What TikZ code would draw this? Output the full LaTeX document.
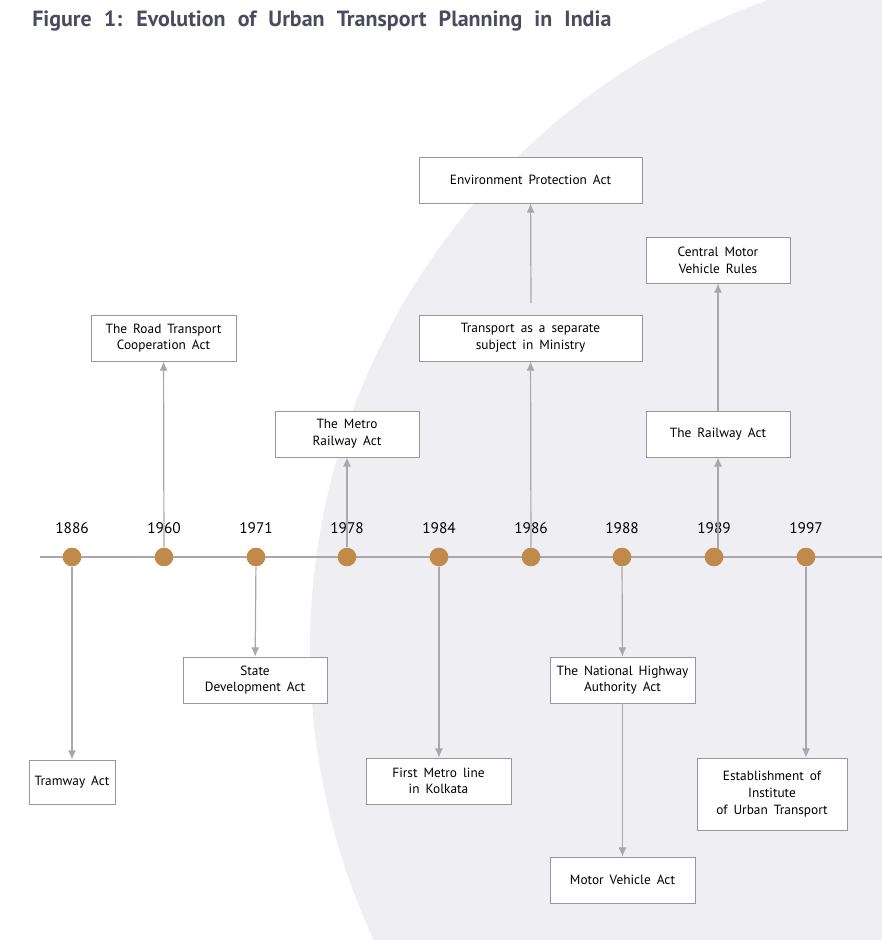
\documentclass[tikz,border=0pt]{standalone}
\usepackage{fontspec}
\setmainfont{PT Sans}
\usetikzlibrary{arrows.meta}
\definecolor{bgc}{HTML}{EFEEF3}
\definecolor{dotc}{HTML}{C08A4A}
\definecolor{arr}{HTML}{A8A8AC}
\definecolor{ttl}{HTML}{4B4B5F}
\newcommand{\myboxfont}{\fontsize{10}{12.5}\selectfont\spaceskip=0.45em\relax}
\newcommand{\mytitlefont}{\fontsize{16.5}{18}\selectfont\bfseries\spaceskip=0.55em\relax}
\tikzset{
 box/.style={draw=arr!90!black, line width=0.5pt, fill=white, align=center, font=\myboxfont, inner sep=0pt},
 dotn/.style={circle, fill=dotc, minimum size=14pt, inner sep=0pt},
 yr/.style={font=\fontsize{11.5}{13}\selectfont},
 con/.style={draw=arr, line width=0.9pt, -{Latex[length=7pt,width=6pt]}}
}
\begin{document}
\begin{tikzpicture}[x=0.75pt,y=-0.75pt]
\useasboundingbox (0,0) rectangle (882,940);
\begin{scope}
\clip (0,0) rectangle (882,940);
\fill[bgc] (1000,650) circle (690);
\end{scope}
\node[anchor=west, text=ttl, font=\mytitlefont, inner sep=0pt] (title) at (32,21) {Figure 1: Evolution of Urban Transport Planning in India};
\coordinate (ls) at (40,557); \coordinate (le) at (882,557);
\draw[arr, line width=0.9pt] (ls) -- (le);
\foreach \x/\y [count=\i] in {72/1886,164/1960,256/1971,347/1978,439/1984,531/1986,622/1988,714/1989,806/1997}{
 \node[dotn] (d\i) at (\x,557) {};
 \node[yr] (y\i) at (\x,528) {\y};
}
\newcommand{\bx}[6]{\node[box, minimum width={(#4-#2)*0.75pt}, minimum height={(#5-#3)*0.75pt}] (#1) at ({(#2+#4)/2},{(#3+#5)/2}) {#6};}
\bx{env}{419}{157}{642}{203}{Environment Protection Act}
\bx{cmv}{646}{237}{790}{283}{Central Motor\\Vehicle Rules}
\bx{rtc}{91}{315}{236}{361}{The Road Transport\\Cooperation Act}
\bx{tsm}{419}{315}{642}{361}{Transport as a separate\\subject in Ministry}
\bx{mra}{275}{411}{419}{457}{The Metro\\Railway Act}
\bx{rla}{646}{411}{790}{457}{The Railway Act}
\bx{sda}{183}{657}{327}{703}{State\\Development Act}
\bx{nha}{550}{657}{695}{703}{The National Highway\\Authority Act}
\bx{tra}{29}{760}{115}{804}{Tramway Act}
\bx{fml}{366}{758}{511}{804}{First Metro line\\in Kolkata}
\bx{eiu}{697}{758}{847}{830}{Establishment of\\Institute\\of Urban Transport}
\bx{mva}{550}{857}{695}{903}{Motor Vehicle Act}
\coordinate (tsmtop) at (531,303);
\coordinate (d8top) at (718,549);
\draw[con] (d1) -- (tra);
\draw[con] (d2) -- (rtc);
\draw[con] (d3) -- (sda);
\draw[con] (d4) -- (mra);
\draw[con] (d5) -- (fml.north -| d5);
\draw[con] (d6) -- (tsm);
\draw[con] (tsmtop) -- (env);
\draw[con] (d7) -- (nha);
\draw[con] (nha) -- (mva);
\draw[con] (d8top) -- (rla);
\draw[con] (rla) -- (cmv);
\draw[con] (d9) -- (eiu.north -| d9);
\end{tikzpicture}
\end{document}
